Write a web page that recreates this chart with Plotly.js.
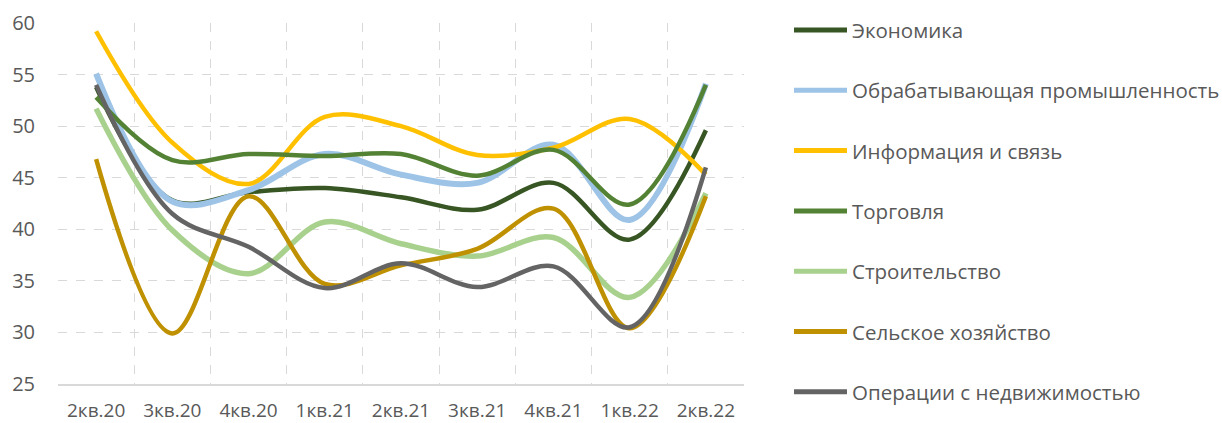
<!DOCTYPE html>
<html><head><meta charset="utf-8">
<script src="https://cdn.plot.ly/plotly-3.0.1.min.js"></script>
<style>body{margin:0;background:#fff}#chart{width:1222px;height:423px}</style>
</head><body><div id="chart"></div>
<script>
const categories = ["2кв.20","3кв.20","4кв.20","1кв.21","2кв.21","3кв.21","4кв.21","1кв.22","2кв.22"];
const economy      = [53.8, 42.8, 43.6, 44.0, 43.1, 41.9, 44.5, 39.0, 49.6];
const manufacturing= [55.1, 42.7, 43.8, 47.3, 45.3, 44.5, 48.2, 40.9, 54.1];
const infoComm     = [59.2, 48.4, 44.4, 50.9, 50.0, 47.2, 47.9, 50.7, 45.3];
const trade        = [52.8, 46.7, 47.3, 47.1, 47.3, 45.2, 47.7, 42.4, 54.0];
const construction = [51.7, 39.9, 35.7, 40.7, 38.6, 37.4, 39.2, 33.4, 43.5];
const agriculture  = [46.8, 29.9, 43.2, 34.7, 36.5, 38.1, 42.0, 30.4, 43.2];
const realEstate   = [54.0, 41.5, 38.3, 34.3, 36.7, 34.4, 36.4, 30.5, 46.0];
const seriesNames = ["Экономика","Обрабатывающая промышленность","Информация и связь","Торговля","Строительство","Сельское хозяйство","Операции с недвижимостью"];

const seriesData = [economy, manufacturing, infoComm, trade, construction, agriculture, realEstate];
const colors = ["#375623","#9DC3E6","#FFC000","#548235","#A9D18E","#BF9000","#646464"];
const widths = [4.5, 6, 4.5, 4.5, 5.5, 4.5, 4.5];

const traces = seriesData.map((d,i)=>({
  x: categories, y: d, name: seriesNames[i], type:'scatter', mode:'lines',
  line:{color:colors[i], width:widths[i], shape:'spline', smoothing:1},
  showlegend:false
}));

// plot area geometry (px)
const W = 1222, H = 423, L = 58, R = 744, T = 23, B = 384;
const px2x = p => (p - L) / (R - L);
const px2y = p => (B - p) / (B - T);

// manual legend (long line samples as in the reference)
const shapes = [], annotations = [];
seriesNames.forEach((n,i)=>{
  const yc = 30 + i*60.3;
  shapes.push({type:'line', xref:'paper', yref:'paper',
    x0:px2x(794), x1:px2x(847), y0:px2y(yc), y1:px2y(yc),
    line:{color:colors[i], width:5}});
  annotations.push({xref:'paper', yref:'paper', x:px2x(850), y:px2y(yc),
    xanchor:'left', yanchor:'middle', showarrow:false, text:n,
    font:{size:20.5, color:'#595959'}});
});

const layout = {
  width:W, height:H,
  margin:{l:L, r:W-R, t:T, b:H-B},
  paper_bgcolor:'#fff', plot_bgcolor:'#fff',
  font:{family:'"Open Sans", sans-serif', color:'#595959', size:18},
  xaxis:{type:'category', range:[-0.5,8.5], tickson:'boundaries', showgrid:true,
    gridcolor:'#D9D9D9', griddash:'dash', gridwidth:1, zeroline:false,
    showline:true, linecolor:'#D9D9D9', linewidth:1.5, ticks:'', ticklabelstandoff:9,
    tickfont:{size:19, color:'#595959'}},
  yaxis:{range:[25,60], dtick:5, showgrid:true, gridcolor:'#D9D9D9', griddash:'dash',
    zeroline:false, showline:false, ticks:'', ticklabelstandoff:22,
    tickfont:{size:20, color:'#595959'}},
  showlegend:false,
  shapes, annotations
};
Plotly.newPlot('chart', traces, layout, {displayModeBar:false, staticPlot:true});
</script></body></html>
